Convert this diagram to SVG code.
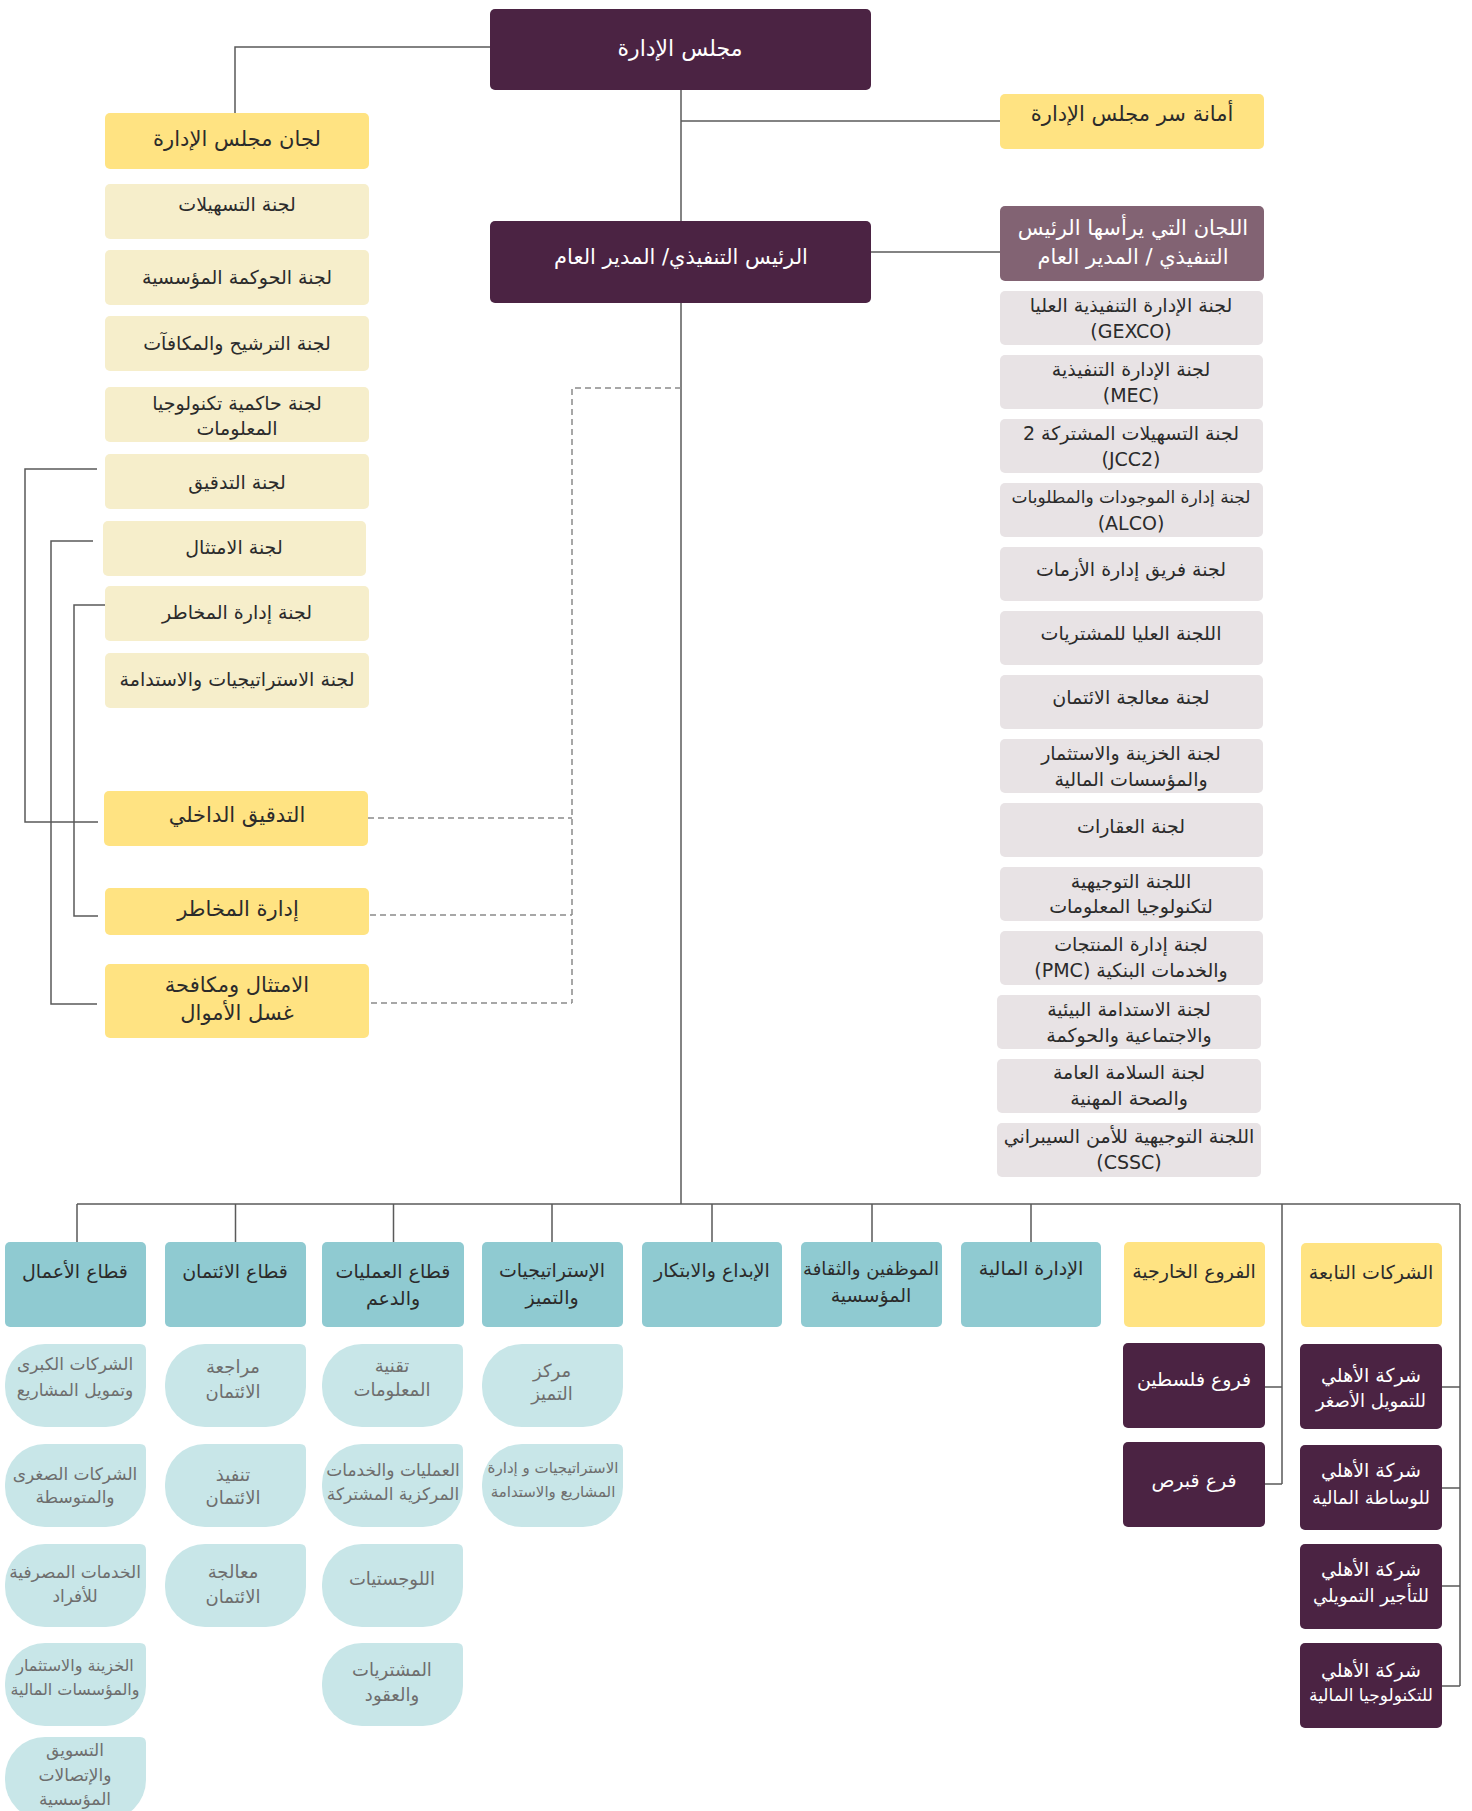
<svg xmlns="http://www.w3.org/2000/svg" width="1472" height="1811" viewBox="0 0 1472 1811">
<style>
.plum{fill:#4b2343}
.mauve{fill:#826373}
.yel{fill:#ffe382}
.cream{fill:#f6eecb}
.gray{fill:#e8e3e5}
.teal{fill:#8fcad1}
.lteal{fill:#c8e6e8}
text{font-family:'DejaVu Sans',sans-serif;text-anchor:middle;direction:rtl;dominant-baseline:central}
.w{fill:#ffffff}
.d{fill:#2b2b2b}
.g{fill:#6e6e6e}
.f22{font-size:21px}
.f20{font-size:19px}
.f18{font-size:18px}
.f17{font-size:17px}
.f16{font-size:16px}
.f15{font-size:15px}
.conn{stroke:#5a5a5a;stroke-width:1.5;fill:none}
.dash{stroke:#8a8a8a;stroke-width:1.5;fill:none;stroke-dasharray:6 4}
</style>
<defs>
<path id="leaf" d="M40,0 H135 Q141,0 141,6 V43 A40,40 0 0 1 101,83 H40 A40,40 0 0 1 0,43 V40 A40,40 0 0 1 40,0 Z"/>
</defs>

<g id="connectors">
<path class="conn" d="M491 47 H235 V113"/>
<path class="conn" d="M681 90 V1204"/>
<path class="conn" d="M681 121 H1000"/>
<path class="conn" d="M871 252 H1000"/>
<path class="conn" d="M97 469 H25 V822 H98"/>
<path class="conn" d="M93 541 H51 V1004 H97"/>
<path class="conn" d="M105 605 H74 V916 H98"/>
<path class="dash" d="M368 818 H572"/>
<path class="dash" d="M370 915 H572"/>
<path class="dash" d="M371 1003 H572"/>
<path class="dash" d="M681 388 H572 V1003"/>
<path class="conn" d="M77 1204 H1460"/>
<path class="conn" d="M77 1204 V1242 M235.5 1204 V1242 M393.5 1204 V1242 M552 1204 V1242 M712 1204 V1242 M872 1204 V1242 M1031 1204 V1242"/>
<path class="conn" d="M1282 1204 V1484 M1265 1387 H1282 M1265 1484 H1282"/>
<path class="conn" d="M1460 1204 V1686 M1442 1387 H1460 M1442 1488 H1460 M1442 1586 H1460 M1442 1686 H1460"/>
</g>

<g id="board"><rect class="plum" x="490" y="9" width="381" height="81" rx="5"/><text class="w" style="font-size:22px" x="680" y="48">مجلس الإدارة</text></g>
<g id="ceo"><rect class="plum" x="490" y="221" width="381" height="82" rx="5"/><text class="w f22" x="681" y="257">الرئيس التنفيذي/ المدير العام</text></g>
<g id="secretariat"><rect class="yel" x="1000" y="94" width="264" height="55" rx="5"/><text class="d f22" x="1132" y="114">أمانة سر مجلس الإدارة</text></g>
<g id="ceo-committees"><rect class="mauve" x="1000" y="206" width="264" height="75" rx="5"/><text class="w f22" x="1133" y="228">اللجان التي يرأسها الرئيس</text><text class="w f22" x="1133" y="257">التنفيذي / المدير العام</text></g>

<g id="c1"><rect class="gray" x="1000" y="291" width="263" height="54" rx="5"/><text class="d f20" x="1131" y="305">لجنة الإدارة التنفيذية العليا</text><text class="d f20" x="1131" y="331">(GEXCO)</text></g>
<g id="c2"><rect class="gray" x="1000" y="355" width="263" height="54" rx="5"/><text class="d f20" x="1131" y="369">لجنة الإدارة التنفيذية</text><text class="d f20" x="1131" y="395">(MEC)</text></g>
<g id="c3"><rect class="gray" x="1000" y="419" width="263" height="54" rx="5"/><text class="d f20" x="1131" y="433">لجنة التسهيلات المشتركة 2</text><text class="d f20" x="1131" y="459">(JCC2)</text></g>
<g id="c4"><rect class="gray" x="1000" y="483" width="263" height="54" rx="5"/><text class="d f17" x="1131" y="497">لجنة إدارة الموجودات والمطلوبات</text><text class="d f20" x="1131" y="523">(ALCO)</text></g>
<g id="c5"><rect class="gray" x="1000" y="547" width="263" height="54" rx="5"/><text class="d f20" x="1131" y="569">لجنة فريق إدارة الأزمات</text></g>
<g id="c6"><rect class="gray" x="1000" y="611" width="263" height="54" rx="5"/><text class="d f20" x="1131" y="633">اللجنة العليا للمشتريات</text></g>
<g id="c7"><rect class="gray" x="1000" y="675" width="263" height="54" rx="5"/><text class="d f20" x="1131" y="697">لجنة معالجة الائتمان</text></g>
<g id="c8"><rect class="gray" x="1000" y="739" width="263" height="54" rx="5"/><text class="d f20" x="1131" y="753">لجنة الخزينة والاستثمار</text><text class="d f20" x="1131" y="779">والمؤسسات المالية</text></g>
<g id="c9"><rect class="gray" x="1000" y="803" width="263" height="54" rx="5"/><text class="d f20" x="1131" y="826">لجنة العقارات</text></g>
<g id="c10"><rect class="gray" x="1000" y="867" width="263" height="54" rx="5"/><text class="d f20" x="1131" y="881">اللجنة التوجيهية</text><text class="d f20" x="1131" y="906">لتكنولوجيا المعلومات</text></g>
<g id="c11"><rect class="gray" x="1000" y="931" width="263" height="54" rx="5"/><text class="d f20" x="1131" y="944">لجنة إدارة المنتجات</text><text class="d f20" x="1131" y="970">والخدمات البنكية (PMC)</text></g>
<g id="c12"><rect class="gray" x="997" y="995" width="264" height="54" rx="5"/><text class="d f20" x="1129" y="1009">لجنة الاستدامة البيئية</text><text class="d f20" x="1129" y="1035">والاجتماعية والحوكمة</text></g>
<g id="c13"><rect class="gray" x="997" y="1059" width="264" height="54" rx="5"/><text class="d f20" x="1129" y="1072">لجنة السلامة العامة</text><text class="d f20" x="1129" y="1098">والصحة المهنية</text></g>
<g id="c14"><rect class="gray" x="997" y="1123" width="264" height="54" rx="5"/><text class="d f20" x="1129" y="1136">اللجنة التوجيهية للأمن السيبراني</text><text class="d f20" x="1129" y="1162">(CSSC)</text></g>

<g id="board-committees"><rect class="yel" x="105" y="113" width="264" height="56" rx="5"/><text class="d f22" x="237" y="139">لجان مجلس الإدارة</text></g>
<g id="b1"><rect class="cream" x="105" y="184" width="264" height="55" rx="5"/><text class="d f20" x="237" y="204">لجنة التسهيلات</text></g>
<g id="b2"><rect class="cream" x="105" y="250" width="264" height="55" rx="5"/><text class="d f20" x="237" y="277">لجنة الحوكمة المؤسسية</text></g>
<g id="b3"><rect class="cream" x="105" y="316" width="264" height="55" rx="5"/><text class="d f20" x="237" y="343">لجنة الترشيح والمكافآت</text></g>
<g id="b4"><rect class="cream" x="105" y="387" width="264" height="55" rx="5"/><text class="d f20" x="237" y="403">لجنة حاكمية تكنولوجيا</text><text class="d f20" x="237" y="428">المعلومات</text></g>
<g id="b5"><rect class="cream" x="105" y="454" width="264" height="55" rx="5"/><text class="d f20" x="237" y="482">لجنة التدقيق</text></g>
<g id="b6"><rect class="cream" x="103" y="521" width="263" height="55" rx="5"/><text class="d f20" x="234" y="547">لجنة الامتثال</text></g>
<g id="b7"><rect class="cream" x="105" y="586" width="264" height="55" rx="5"/><text class="d f20" x="237" y="612">لجنة إدارة المخاطر</text></g>
<g id="b8"><rect class="cream" x="105" y="653" width="264" height="55" rx="5"/><text class="d f20" x="237" y="679">لجنة الاستراتيجيات والاستدامة</text></g>

<g id="internal-audit"><rect class="yel" x="104" y="791" width="264" height="55" rx="5"/><text class="d f22" x="237" y="815">التدقيق الداخلي</text></g>
<g id="risk"><rect class="yel" x="105" y="888" width="264" height="47" rx="5"/><text class="d f22" x="238" y="909">إدارة المخاطر</text></g>
<g id="compliance"><rect class="yel" x="105" y="964" width="264" height="74" rx="5"/><text class="d f22" x="237" y="985">الامتثال ومكافحة</text><text class="d f22" x="237" y="1013">غسل الأموال</text></g>

<g id="s1"><rect class="teal" x="5" y="1242" width="141" height="85" rx="5"/><text class="d f20" x="75" y="1271">قطاع الأعمال</text></g>
<g id="s2"><rect class="teal" x="165" y="1242" width="141" height="85" rx="5"/><text class="d f20" x="235" y="1271">قطاع الائتمان</text></g>
<g id="s3"><rect class="teal" x="322" y="1242" width="142" height="85" rx="5"/><text class="d f20" x="393" y="1271">قطاع العمليات</text><text class="d f20" x="393" y="1298">والدعم</text></g>
<g id="s4"><rect class="teal" x="482" y="1242" width="141" height="85" rx="5"/><text class="d f20" x="552" y="1270">الإستراتيجيات</text><text class="d f20" x="552" y="1297">والتميز</text></g>
<g id="s5"><rect class="teal" x="642" y="1242" width="140" height="85" rx="5"/><text class="d f20" x="712" y="1270">الإبداع والابتكار</text></g>
<g id="s6"><rect class="teal" x="801" y="1242" width="141" height="85" rx="5"/><text class="d f18" x="871" y="1268">الموظفين والثقافة</text><text class="d f20" x="871" y="1295">المؤسسية</text></g>
<g id="s7"><rect class="teal" x="961" y="1242" width="140" height="85" rx="5"/><text class="d f20" x="1031" y="1268">الإدارة المالية</text></g>
<g id="s8"><rect class="yel" x="1124" y="1242" width="141" height="85" rx="5"/><text class="d f20" x="1194" y="1271">الفروع الخارجية</text></g>
<g id="s9"><rect class="yel" x="1301" y="1243" width="141" height="84" rx="5"/><text class="d f20" x="1371" y="1272">الشركات التابعة</text></g>

<g id="u1-1"><use href="#leaf" class="lteal" x="5" y="1344"/><text class="g f17" x="75" y="1364">الشركات الكبرى</text><text class="g f17" x="75" y="1390">وتمويل المشاريع</text></g>
<g id="u1-2"><use href="#leaf" class="lteal" x="5" y="1444"/><text class="g f17" x="75" y="1474">الشركات الصغرى</text><text class="g f17" x="75" y="1497">والمتوسطة</text></g>
<g id="u1-3"><use href="#leaf" class="lteal" x="5" y="1544"/><text class="g f17" x="75" y="1572">الخدمات المصرفية</text><text class="g f17" x="75" y="1596">للأفراد</text></g>
<g id="u1-4"><use href="#leaf" class="lteal" x="5" y="1643"/><text class="g f16" x="75" y="1665">الخزينة والاستثمار</text><text class="g f16" x="75" y="1689">والمؤسسات المالية</text></g>
<g id="u1-5"><use href="#leaf" class="lteal" x="5" y="1737"/><text class="g f17" x="75" y="1750">التسويق</text><text class="g f17" x="75" y="1775">والإتصالات</text><text class="g f17" x="75" y="1799">المؤسسية</text></g>
<g id="u2-1"><use href="#leaf" class="lteal" x="165" y="1344"/><text class="g f18" x="233" y="1366">مراجعة</text><text class="g f18" x="233" y="1391">الائتمان</text></g>
<g id="u2-2"><use href="#leaf" class="lteal" x="165" y="1444"/><text class="g f18" x="233" y="1474">تنفيذ</text><text class="g f18" x="233" y="1497">الائتمان</text></g>
<g id="u2-3"><use href="#leaf" class="lteal" x="165" y="1544"/><text class="g f18" x="233" y="1571">معالجة</text><text class="g f18" x="233" y="1596">الائتمان</text></g>
<g id="u3-1"><use href="#leaf" class="lteal" x="322" y="1344"/><text class="g f18" x="392" y="1365">تقنية</text><text class="g f18" x="392" y="1389">المعلومات</text></g>
<g id="u3-2"><use href="#leaf" class="lteal" x="322" y="1444"/><text class="g f17" x="393" y="1470">العمليات والخدمات</text><text class="g f17" x="393" y="1494">المركزية المشتركة</text></g>
<g id="u3-3"><use href="#leaf" class="lteal" x="322" y="1544"/><text class="g f18" x="392" y="1578">اللوجستيات</text></g>
<g id="u3-4"><use href="#leaf" class="lteal" x="322" y="1643"/><text class="g f18" x="392" y="1669">المشتريات</text><text class="g f18" x="392" y="1694">والعقود</text></g>
<g id="u4-1"><use href="#leaf" class="lteal" x="482" y="1344"/><text class="g f18" x="552" y="1370">مركز</text><text class="g f18" x="552" y="1393">التميز</text></g>
<g id="u4-2"><use href="#leaf" class="lteal" x="482" y="1444"/><text class="g f15" x="553" y="1468">الاستراتيجيات و إدارة</text><text class="g f15" x="553" y="1492">المشاريع والاستدامة</text></g>

<g id="br1"><rect class="plum" x="1123" y="1343" width="142" height="85" rx="5"/><text class="w f20" x="1194" y="1379">فروع فلسطين</text></g>
<g id="br2"><rect class="plum" x="1123" y="1442" width="142" height="85" rx="5"/><text class="w f20" x="1194" y="1480">فرع قبرص</text></g>
<g id="sub1"><rect class="plum" x="1300" y="1344" width="142" height="85" rx="5"/><text class="w f20" x="1371" y="1375">شركة الأهلي</text><text class="w f18" x="1371" y="1400">للتمويل الأصغر</text></g>
<g id="sub2"><rect class="plum" x="1300" y="1445" width="142" height="85" rx="5"/><text class="w f20" x="1371" y="1470">شركة الأهلي</text><text class="w f18" x="1371" y="1497">للوساطة المالية</text></g>
<g id="sub3"><rect class="plum" x="1300" y="1544" width="142" height="85" rx="5"/><text class="w f20" x="1371" y="1569">شركة الأهلي</text><text class="w f18" x="1371" y="1595">للتأجير التمويلي</text></g>
<g id="sub4"><rect class="plum" x="1300" y="1643" width="142" height="85" rx="5"/><text class="w f20" x="1371" y="1670">شركة الأهلي</text><text class="w f17" x="1371" y="1695">للتكنولوجيا المالية</text></g>
</svg>
